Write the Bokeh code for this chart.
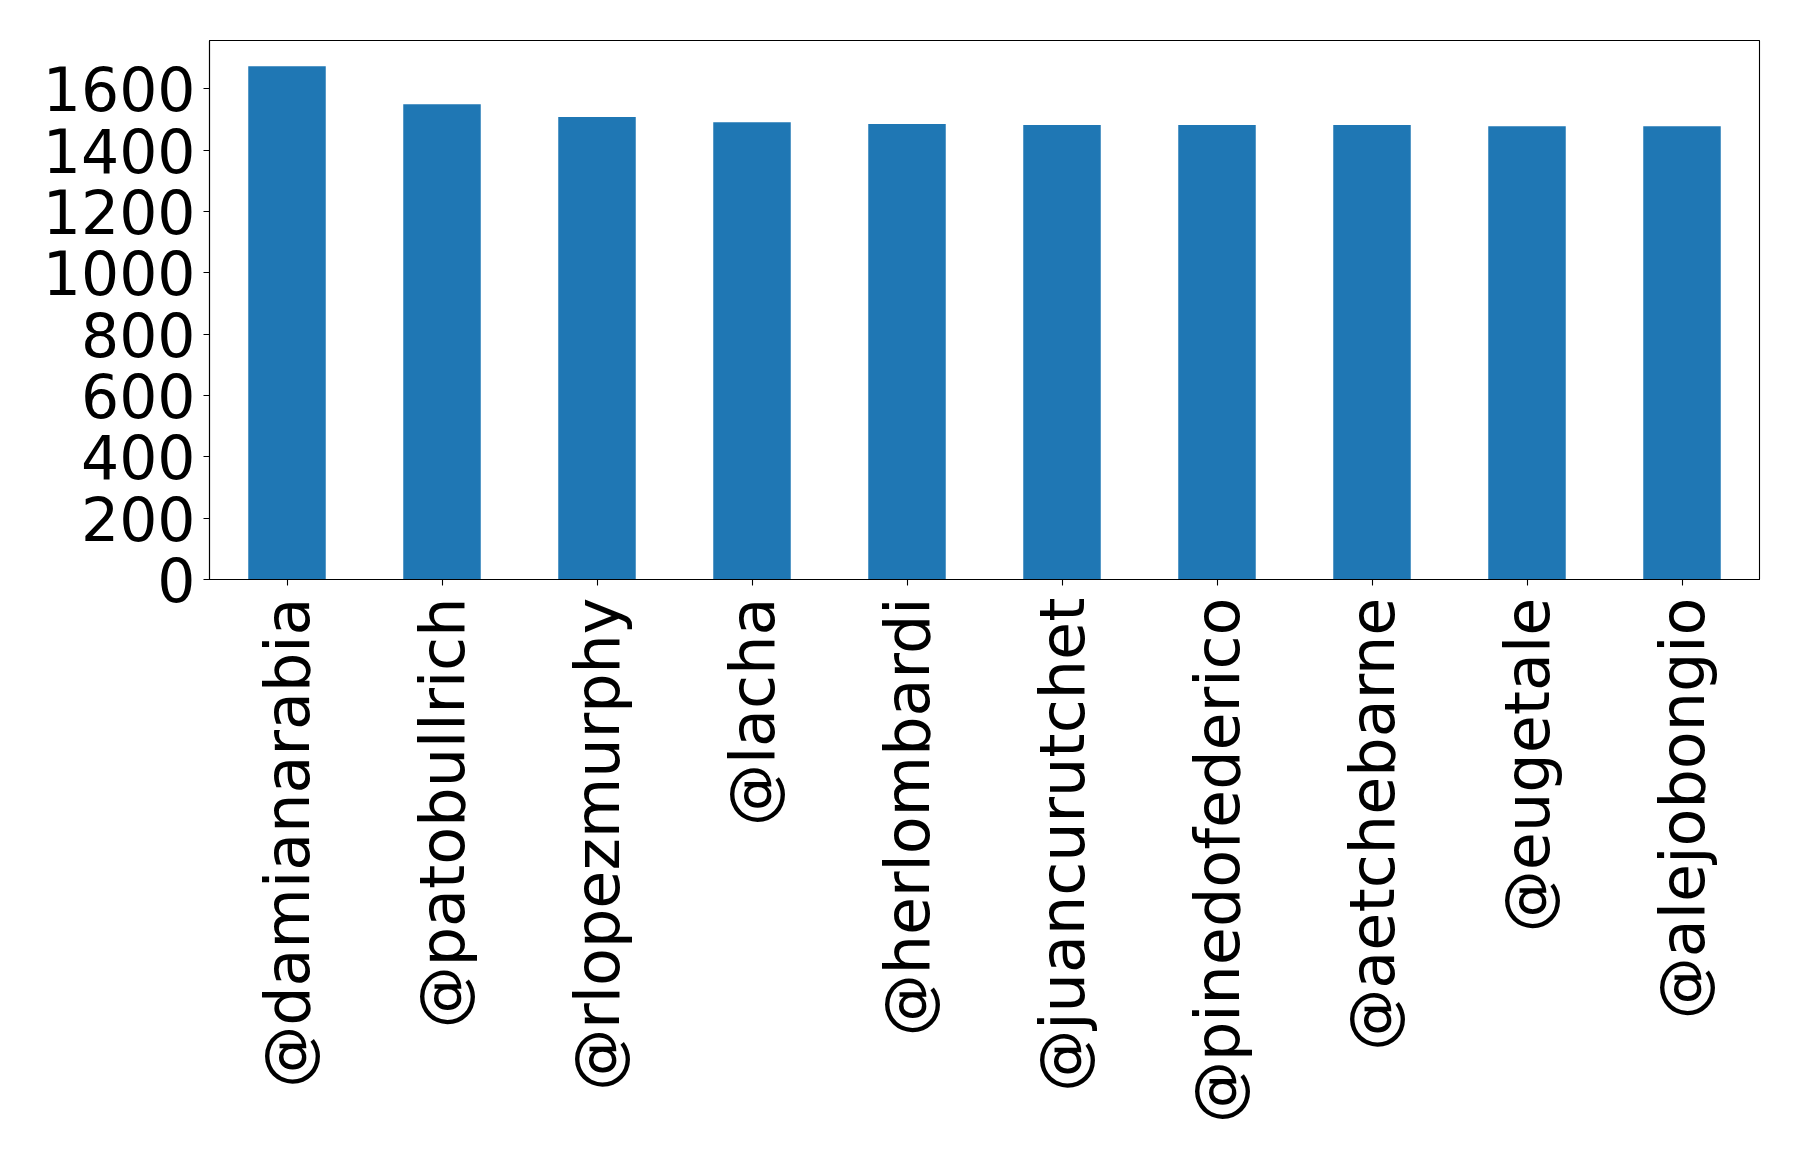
import math
from bokeh.plotting import figure
from bokeh.models import Range1d, FactorRange, SingleIntervalTicker
from bokeh.embed import file_html
from bokeh.resources import INLINE

users = ["@damianarabia", "@patobullrich", "@rlopezmurphy", "@lacha", "@herlombardi",
         "@juancurutchet", "@pinedofederico", "@aetchebarne", "@eugetale", "@alejobongio"]
counts = [1674, 1550, 1508, 1491, 1485, 1482, 1482, 1482, 1478, 1478]

FONT = "DejaVu Sans"

p = figure(x_range=FactorRange(factors=users, range_padding=0),
           y_range=Range1d(0, max(counts) * 1.05),
           frame_width=1550, frame_height=539,
           min_border_left=209, min_border_top=40, min_border_right=23, min_border_bottom=560,
           output_backend="svg", toolbar_location=None)

p.vbar(x=users, top=counts, width=0.5, color="#1f77b4", line_color=None)

p.grid.visible = False
p.outline_line_color = "black"
p.outline_line_width = 1.1

for ax in (p.xaxis, p.yaxis):
    ax.axis_line_color = "black"
    ax.axis_line_width = 1.1
    ax.major_tick_line_color = "black"
    ax.major_tick_line_width = 1.1
    ax.major_tick_in = 0
    ax.major_tick_out = 6
    ax.minor_tick_line_color = None
    ax.major_label_text_font = FONT
    ax.major_label_text_color = "black"

p.yaxis.ticker = SingleIntervalTicker(interval=200)
p.yaxis.major_label_text_font_size = "60px"
p.yaxis.major_label_standoff = 8

p.xaxis.major_label_orientation = math.pi / 2
p.xaxis.major_label_text_font_size = "62px"
p.xaxis.major_label_standoff = 12

open("out.html", "w").write(file_html(p, INLINE))
